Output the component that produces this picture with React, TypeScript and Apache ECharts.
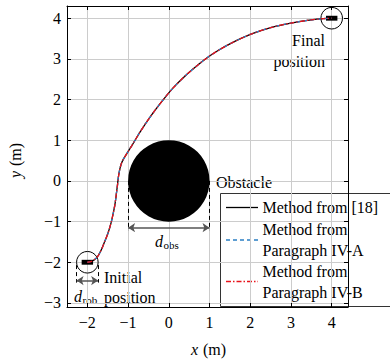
import React, { useEffect, useRef } from "react";
import * as echarts from "echarts";

// ---- data ----
const pathX = [-2, -1.9, -1.82, -1.75, -1.69, -1.63, -1.57, -1.51, -1.46, -1.41, -1.37, -1.33, -1.3, -1.28, -1.26, -1.25, -1.23, -1.2, -1.16, -1.1, -1.02, -0.9, -0.72, -0.55, -0.35, -0.15, 0.1, 0.4, 0.75, 1.0, 1.25, 1.5, 2.0, 2.5, 3.0, 3.5, 3.8, 4.0];
const pathY = [-2, -1.98, -1.93, -1.86, -1.76, -1.63, -1.48, -1.33, -1.18, -1.0, -0.82, -0.62, -0.42, -0.25, -0.1, 0.0, 0.15, 0.3, 0.44, 0.56, 0.69, 0.88, 1.18, 1.44, 1.72, 1.98, 2.28, 2.58, 2.88, 3.07, 3.23, 3.37, 3.6, 3.77, 3.88, 3.96, 3.99, 4.0];
const seriesNames = ["Method from [18]", "Method from Paragraph IV-A", "Method from Paragraph IV-B"];
const obstacle = [0, 0, 1]; // cx, cy, radius
const robotX = [-2, 4];
const robotY = [-2, 4];
const robotRadius = 0.265;
const robotBody = [0.28, 0.12]; // width, height
const dObsY = -1.15;
const dRobY = -2.45;
const xRange = [-2.5, 4.4];
const yRange = [-3.1, 4.3];

const FAMILY = "Liberation Serif";
const BLUE = "#2a7fc4";
const RED = "#e8141c";

const fmt = (v: number) => (Number.isInteger(v) ? String(v).replace("-", "\u2212") : "");

const txt = (text: string, x: number, y: number, align: string, size = 16, italic = false) => ({
  type: "text",
  style: {
    text, x, y, align, verticalAlign: "middle",
    fontFamily: FAMILY, fontSize: size, fontStyle: italic ? "italic" : "normal", fill: "#000",
  },
});

export default function App() {
  const ref = useRef<HTMLDivElement>(null);
  useEffect(() => {
    if (!ref.current) return;
    const chart = echarts.init(ref.current, null, { renderer: "svg" });
    const pathData = pathX.map((x, i) => [x, pathY[i]]);
    const robots = robotX.map((x, i) => [x, robotY[i], robotRadius, robotBody[0], robotBody[1]]);
    const tickCommon = { inside: true, length: 4, lineStyle: { color: "#000", width: 1 } };
    const option: any = {
      animation: false,
      textStyle: { fontFamily: FAMILY },
      grid: { left: 67, right: 42, top: 6, bottom: 55, containLabel: false },
      xAxis: [
        {
          type: "value", min: xRange[0], max: xRange[1], splitNumber: 7, position: "bottom",
          axisLine: { show: true, onZero: false, lineStyle: { color: "#000", width: 1 } },
          axisTick: tickCommon,
          axisLabel: { formatter: fmt, fontFamily: FAMILY, fontSize: 16, color: "#000", margin: 7, showMinLabel: false, showMaxLabel: false },
          splitLine: { show: true, lineStyle: { color: "#cccccc", width: 1 } },
        },
        {
          type: "value", min: xRange[0], max: xRange[1], splitNumber: 7, position: "top",
          axisLine: { show: true, onZero: false, lineStyle: { color: "#000", width: 1 } },
          axisTick: tickCommon, axisLabel: { show: false }, splitLine: { show: false },
        },
      ],
      yAxis: [
        {
          type: "value", min: yRange[0], max: yRange[1], splitNumber: 7, position: "left",
          axisLine: { show: true, onZero: false, lineStyle: { color: "#000", width: 1 } },
          axisTick: tickCommon,
          axisLabel: { formatter: fmt, fontFamily: FAMILY, fontSize: 16, color: "#000", margin: 6, showMinLabel: false, showMaxLabel: false },
          splitLine: { show: true, lineStyle: { color: "#cccccc", width: 1 } },
        },
        {
          type: "value", min: yRange[0], max: yRange[1], splitNumber: 7, position: "right",
          axisLine: { show: true, onZero: false, lineStyle: { color: "#000", width: 1 } },
          axisTick: tickCommon, axisLabel: { show: false }, splitLine: { show: false },
        },
      ],
      series: [
        {
          type: "custom", name: "obstacle", xAxisIndex: 0, yAxisIndex: 0, silent: true,
          data: [obstacle],
          renderItem: (_p: any, api: any) => {
            const c = api.coord([api.value(0), api.value(1)]);
            const s = api.size([api.value(2), api.value(2)]);
            return { type: "circle", shape: { cx: c[0], cy: c[1], r: s[0] }, style: { fill: "#000" } };
          },
        },
        {
          type: "custom", name: "robots", xAxisIndex: 0, yAxisIndex: 0, silent: true,
          data: robots,
          renderItem: (_p: any, api: any) => {
            const c = api.coord([api.value(0), api.value(1)]);
            const r = api.size([api.value(2), api.value(2)])[0];
            const b = api.size([api.value(3), api.value(4)]);
            return {
              type: "group",
              children: [
                { type: "circle", shape: { cx: c[0], cy: c[1], r }, style: { fill: "none", stroke: "#000", lineWidth: 1 } },
                { type: "rect", shape: { x: c[0] - b[0] / 2, y: c[1] - b[1] / 2, width: b[0], height: b[1] }, style: { fill: "#000" } },
              ],
            };
          },
        },
        {
          type: "lines", coordinateSystem: "cartesian2d", xAxisIndex: 0, yAxisIndex: 0, silent: true,
          lineStyle: { color: "#000", width: 1, type: [4, 3], opacity: 1 },
          data: [
            { coords: [[obstacle[0] - obstacle[2], obstacle[1]], [obstacle[0] - obstacle[2], dObsY - 0.06]] },
            { coords: [[obstacle[0] + obstacle[2], obstacle[1]], [obstacle[0] + obstacle[2], dObsY - 0.06]] },
            { coords: [[robotX[0] - robotRadius, robotY[0] - 0.07], [robotX[0] - robotRadius, dRobY - 0.05]] },
            { coords: [[robotX[0] + robotRadius, robotY[0] - 0.07], [robotX[0] + robotRadius, dRobY - 0.05]] },
          ],
        },
        {
          type: "lines", coordinateSystem: "cartesian2d", xAxisIndex: 0, yAxisIndex: 0, silent: true,
          symbol: ["arrow", "arrow"], symbolSize: 7,
          lineStyle: { color: "#555", width: 1.5, opacity: 1 },
          data: [
            { coords: [[obstacle[0] - obstacle[2], dObsY], [obstacle[0] + obstacle[2], dObsY]] },
            { coords: [[robotX[0] - robotRadius, dRobY], [robotX[0] + robotRadius, dRobY]] },
          ],
        },
        {
          type: "line", name: seriesNames[0], data: pathData, showSymbol: false, smooth: 0.3,
          lineStyle: { color: "#000", width: 1.3 }, silent: true,
        },
        {
          type: "line", name: seriesNames[1], data: pathData, showSymbol: false, smooth: 0.3,
          lineStyle: { color: BLUE, width: 1.3, type: [4, 3] }, silent: true,
        },
        {
          type: "line", name: seriesNames[2], data: pathData, showSymbol: false, smooth: 0.3,
          lineStyle: { color: RED, width: 1.3, type: [5, 2, 1.5, 2] }, silent: true,
        },
      ],
      graphic: [
        // annotations
        txt("Final", 325, 40.5, "right"),
        txt("position", 325, 61.5, "right"),
        txt("Obstacle", 216, 182, "left"),
        txt("Initial", 104, 277, "left"),
        txt("position", 104, 297, "left"),
        txt("d", 155, 241.5, "left", 16, true),
        txt("obs", 163.5, 244.5, "left", 11),
        txt("d", 74, 296.5, "left", 16, true),
        txt("rob", 82.5, 299.5, "left", 11),
        // axis names
        txt("x", 191, 349, "left", 16, true),
        txt("(m)", 203, 349, "left"),
        {
          type: "group", x: 15, y: 162, rotation: Math.PI / 2,
          children: [
            txt("y", -16, 0, "left", 16, true),
            txt("(m)", -4, 0, "left"),
          ],
        },
        // legend
        {
          type: "group", z: 100,
          children: [
            { type: "rect", shape: { x: 220.5, y: 193.5, width: 175, height: 113 }, style: { fill: "#fff", stroke: "#333", lineWidth: 1 } },
            { type: "line", shape: { x1: 226, y1: 207.5, x2: 258, y2: 207.5 }, style: { stroke: "#000", lineWidth: 1.3 } },
            { type: "line", shape: { x1: 226, y1: 240, x2: 258, y2: 240 }, style: { stroke: BLUE, lineWidth: 1.3, lineDash: [4, 3] } },
            { type: "line", shape: { x1: 226, y1: 281.5, x2: 258, y2: 281.5 }, style: { stroke: RED, lineWidth: 1.3, lineDash: [5, 2, 1.5, 2] } },
            txt("Method from [18]", 262.5, 207.5, "left"),
            txt("Method from", 262.5, 229, "left"),
            txt("Paragraph IV-A", 262.5, 250, "left"),
            txt("Method from", 262.5, 271, "left"),
            txt("Paragraph IV-B", 262.5, 292, "left"),
          ],
        },
      ],
    };
    chart.setOption(option);
    return () => chart.dispose();
  }, []);
  return <div ref={ref} style={{ width: 390, height: 362, position: "absolute", left: 0, top: 0 }} />;
}
